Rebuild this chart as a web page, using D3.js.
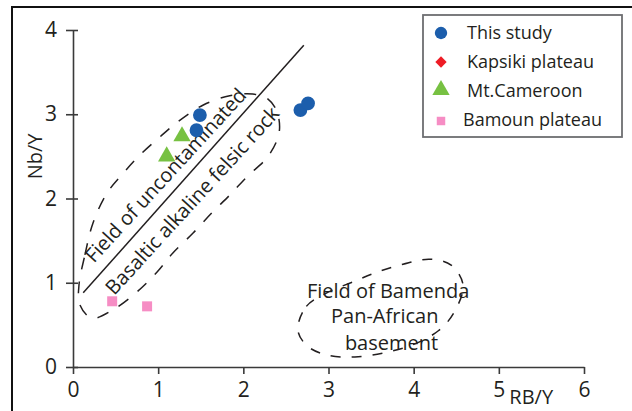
<!DOCTYPE html>
<html>
<head>
<meta charset="utf-8">
<script src="https://cdn.jsdelivr.net/npm/d3@7"></script>
<style>
  body { margin: 0; background: #fff; }
  svg { display: block; }
  text { font-family: "Open Sans", "Noto Sans", sans-serif; fill: #231f20; }
</style>
</head>
<body>
<svg id="chart" width="632" height="411"></svg>
<script>
// Axis ticks
const xTicks = [0, 1, 2, 3, 4, 5, 6];
const yTicks = [0, 1, 2, 3, 4];

// Series values (RB/Y, Nb/Y)
const thisStudyX = [1.49, 1.45, 2.67, 2.76];
const thisStudyY = [2.99, 2.81, 3.05, 3.13];
const kapsikiX = [];
const kapsikiY = [];
const cameroonX = [1.28, 1.10];
const cameroonY = [2.74, 2.50];
const bamounX = [0.46, 0.87];
const bamounY = [0.78, 0.72];

const seriesNames = ["This study", "Kapsiki plateau", "Mt.Cameroon", "Bamoun plateau"];
const seriesColors = ["#1c5eac", "#ee1c25", "#77c142", "#f68dc4"];

// Dividing line of the uncontaminated basaltic field
const divideX = [0.12, 2.71];
const divideY = [0.88, 3.82];

// Boundary of the uncontaminated basaltic alkaline felsic field
const fieldAX = [0.07, 0.14, 0.235, 0.40, 0.59, 0.79, 1.02, 1.23, 1.53, 1.84, 2.11, 2.29, 2.395,
                 2.42, 2.29, 2.04, 1.84, 1.63, 1.41, 1.17, 0.99, 0.75, 0.47, 0.22, 0.08];
const fieldAY = [0.97, 1.33, 1.71, 2.065, 2.30, 2.52, 2.73, 2.91, 3.11, 3.22, 3.24, 3.18, 3.03,
                 2.78, 2.50, 2.255, 2.04, 1.83, 1.59, 1.35, 1.13, 0.89, 0.68, 0.58, 0.74];

// Boundary of the Bamenda Pan-African basement field
const fieldBX = [2.64, 2.74, 2.98, 3.31, 3.58, 3.875, 4.19, 4.44, 4.58, 4.47, 4.29, 3.98, 3.66, 3.31, 2.99, 2.75];
const fieldBY = [0.44, 0.72, 0.88, 1.02, 1.13, 1.22, 1.28, 1.21, 0.97, 0.64, 0.43, 0.26, 0.17, 0.12, 0.14, 0.25];

const fieldLabels1 = ["Field of uncontaminated", "Basaltic alkaline felsic rock"];
const fieldLabels2 = ["Field of Bamenda", "Pan-African", "basement"];

const svg = d3.select("#chart");
const x = d3.scaleLinear().domain([0, 6]).range([73, 584]);
const y = d3.scaleLinear().domain([0, 4]).range([367, 30]);

// Figure frame (left and top edges)
svg.append("path")
  .attr("d", "M12,411 V7 H632")
  .attr("fill", "none").attr("stroke", "#111").attr("stroke-width", 2);

// Axes
const fmt = d3.format("d");
const xAxis = svg.append("g").attr("transform", `translate(0,${y(0)})`)
  .call(d3.axisBottom(x).tickValues(xTicks).tickFormat(fmt).tickSize(7).tickSizeOuter(0).tickPadding(8));
const yAxis = svg.append("g").attr("transform", `translate(${x(0)},0)`)
  .call(d3.axisLeft(y).tickValues(yTicks).tickFormat(fmt).tickSize(7).tickSizeOuter(0).tickPadding(9));
yAxis.selectAll(".tick line").attr("x1", 5);
[xAxis, yAxis].forEach(g => {
  g.select(".domain").attr("stroke", "#3a3a3a").attr("stroke-width", 1.6);
  g.selectAll(".tick line").attr("stroke", "#3a3a3a").attr("stroke-width", 1.6);
  g.selectAll(".tick text").attr("font-size", 21).attr("font-family", null).style("fill", "#231f20");
});

svg.append("text").attr("font-size", 20)
  .attr("transform", `translate(${x(-0.45)},${y(2.5)}) rotate(-90)`)
  .attr("text-anchor", "middle").attr("dy", "0.35em").text("Nb/Y");
svg.append("text").attr("font-size", 20)
  .attr("x", x(5.38)).attr("y", 404).attr("text-anchor", "middle").text("RB/Y");

// Field outlines
const outline = d3.line().x(d => x(d[0])).y(d => y(d[1])).curve(d3.curveCatmullRomClosed.alpha(0.5));
svg.append("path")
  .attr("d", outline(fieldAX.map((v, i) => [v, fieldAY[i]])))
  .attr("fill", "none").attr("stroke", "#231f20").attr("stroke-width", 1.5)
  .attr("stroke-dasharray", "12,12");
svg.append("path")
  .attr("d", outline(fieldBX.map((v, i) => [v, fieldBY[i]])))
  .attr("fill", "none").attr("stroke", "#231f20").attr("stroke-width", 1.5)
  .attr("stroke-dasharray", "10,11");

// Dividing line
svg.append("line")
  .attr("x1", x(divideX[0])).attr("y1", y(divideY[0]))
  .attr("x2", x(divideX[1])).attr("y2", y(divideY[1]))
  .attr("stroke", "#231f20").attr("stroke-width", 1.5);

// Labels along the line
const ang = -47.5;
svg.append("text").attr("font-size", 20).attr("text-anchor", "middle")
  .attr("dominant-baseline", "central")
  .attr("transform", `translate(${x(1.082)},${y(2.28)}) rotate(${ang})`)
  .text(fieldLabels1[0]);
svg.append("text").attr("font-size", 20).attr("text-anchor", "middle")
  .attr("dominant-baseline", "central")
  .attr("transform", `translate(${x(1.395)},${y(1.98)}) rotate(${ang})`)
  .text(fieldLabels1[1]);

const bx = [3.70, 3.66, 3.74];
const by = [0.82, 0.52, 0.20];
fieldLabels2.forEach((t, i) => {
  svg.append("text").attr("font-size", 20).attr("text-anchor", "middle")
    .attr("x", x(bx[i])).attr("y", y(by[i])).text(t);
});

// Data markers
const sym = [d3.symbolCircle, d3.symbolSquare, d3.symbolTriangle, d3.symbolSquare];
const plotSize = [150, 64, 130, 100];
const series = [
  [thisStudyX, thisStudyY], [kapsikiX, kapsikiY], [cameroonX, cameroonY], [bamounX, bamounY]
];
series.forEach(([xs, ys], k) => {
  svg.append("g").selectAll("path").data(xs.map((v, i) => [v, ys[i]])).join("path")
    .attr("transform", d => `translate(${x(d[0])},${y(d[1])})${k === 1 ? " rotate(45)" : ""}`)
    .attr("d", d3.symbol(sym[k], plotSize[k]))
    .attr("fill", seriesColors[k]);
});

// Legend
const lg = svg.append("g");
lg.append("rect").attr("x", 423).attr("y", 15).attr("width", 199).attr("height", 122)
  .attr("fill", "#fff").attr("stroke", "#6d6e71").attr("stroke-width", 1.8);
const legSize = [120, 64, 130, 72];
const legY = [33, 62, 90, 121];
const legTx = [467, 467, 467, 463];
seriesNames.forEach((name, k) => {
  lg.append("path")
    .attr("transform", `translate(441,${legY[k]})${k === 1 ? " rotate(45)" : ""}`)
    .attr("d", d3.symbol(sym[k], legSize[k]))
    .attr("fill", seriesColors[k]);
  lg.append("text").attr("font-size", 18).attr("x", legTx[k])
    .attr("y", [39, 68, 97, 126][k]).text(name);
});
</script>
</body>
</html>
